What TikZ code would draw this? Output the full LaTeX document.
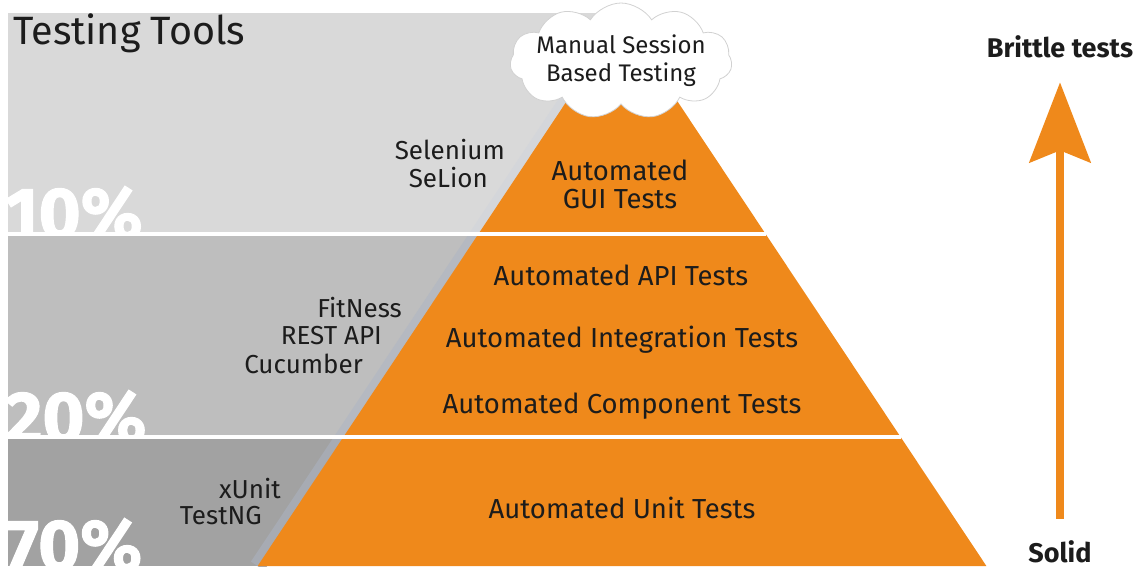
\documentclass[tikz,border=0pt]{standalone}
\usepackage{fontspec}
\setmainfont{Fira Sans}
\newfontfamily\pctfont{Fira Sans}[UprightFeatures={FakeBold=1.5}, BoldFeatures={FakeBold=1.5}]
\usetikzlibrary{shapes.symbols,arrows.meta}
\definecolor{pyrorange}{RGB}{239,137,27}
\definecolor{bandtop}{RGB}{217,217,217}
\definecolor{bandmid}{RGB}{190,190,190}
\definecolor{bandlow}{RGB}{162,162,162}
\definecolor{rimtop}{RGB}{212,214,218}
\definecolor{rimmid}{RGB}{181,185,193}
\definecolor{rimlow}{RGB}{167,171,179}
\definecolor{inktext}{RGB}{28,28,28}
\tikzset{
  layertext/.style={font=\fontsize{27.5}{28}\selectfont, text=inktext, align=center, inner sep=0pt},
  tooltext/.style={font=\fontsize{26}{28}\selectfont, text=inktext, anchor=east, inner sep=0pt},
  pcttext/.style={font=\pctfont\bfseries\fontsize{72}{72}\selectfont, text=white, anchor=base west, inner sep=0pt},
  sidetext/.style={font=\bfseries\fontsize{27}{30}\selectfont, text=inktext, inner sep=0pt},
  separator/.style={white, line width=4pt},
  rim/.style={line width=16pt},
}
\begin{document}
\begin{tikzpicture}[x=1pt,y=-1pt]
\useasboundingbox (0,0) rectangle (1142,566);

% grey bands behind the pyramid
\fill[bandtop] (8,13)  rectangle (640,233);
\fill[bandmid] (8,235) rectangle (640,436);
\fill[bandlow] (8,438) rectangle (640,566);

% share of tests per band, cut off by the band edges
\begin{scope}
  \clip (8,13) rectangle (640,233);
  \node[pcttext] (p10) at (5,238) {10\%};
  \draw[rim, rimtop] (622,18) -- (257.6,566);
\end{scope}
\begin{scope}
  \clip (8,235) rectangle (640,436);
  \node[pcttext] (p20) at (5,442) {20\%};
  \draw[rim, rimmid] (622,18) -- (257.6,566);
\end{scope}
\begin{scope}
  \clip (8,438) rectangle (640,566);
  \node[pcttext] (p70) at (5,570) {70\%};
  \draw[rim, rimlow] (622,18) -- (257.6,566);
\end{scope}

% the pyramid
\fill[pyrorange] (622,18) -- (257.6,566) -- (986.4,566) -- cycle;

% white gaps between the layers
\draw[separator] (8,234) -- (766,234);
\draw[separator] (8,437) -- (901,437);

% manual testing on top
\node[cloud, cloud puffs=11, cloud puff arc=115, aspect=2,
      draw=black!18, fill=white, line width=0.8pt,
      minimum width=222pt, minimum height=116pt]
  (cloud) at (621,61) {};
\node[font=\fontsize{24}{28}\selectfont, text=inktext, align=center, inner sep=0pt]
  (manual) at (cloud.center) {Manual Session\\Based Testing};

% heading
\node[font=\fontsize{39.5}{40}\selectfont, text=inktext, anchor=west, inner sep=0pt]
  (title) at (13,33) {Testing Tools};

% layer labels
\node[layertext] (gui) at (620,184) {Automated\\GUI Tests};
\node[layertext] (api) at (621,275) {Automated API Tests};
\node[layertext] (integ) at (622,340) {Automated Integration Tests};
\node[layertext] (comp) at (622,406) {Automated Component Tests};
\node[layertext] (unit) at (622,508) {Automated Unit Tests};

% tools, right-aligned along the pyramid flank
\node[tooltext] (selenium) at (505,150) {Selenium};
\node[tooltext] (selion)   at (488,178) {SeLion};
\node[tooltext] (fitness)  at (402,308) {FitNess};
\node[tooltext] (rest)     at (382,336) {REST API};
\node[tooltext] (cucumber) at (363,364) {Cucumber};
\node[tooltext] (xunit)    at (281,489) {xUnit};
\node[tooltext] (testng)   at (262,516) {TestNG};

% stability scale
\node[sidetext] (brittle) at (1060,47) {Brittle tests};
\node[sidetext, text depth=0pt, anchor=base] (solid) at (1060,562) {Solid};
\coordinate (arrowbase) at ([yshift=21pt]solid.north);
\coordinate (arrowtip)  at ([yshift=-24pt]brittle.south);
\draw[pyrorange, line width=8pt,
      -{Stealth[length=80pt, width=61pt, inset=12pt]}]
  (arrowbase) -- (arrowtip);
\end{tikzpicture}
\end{document}
